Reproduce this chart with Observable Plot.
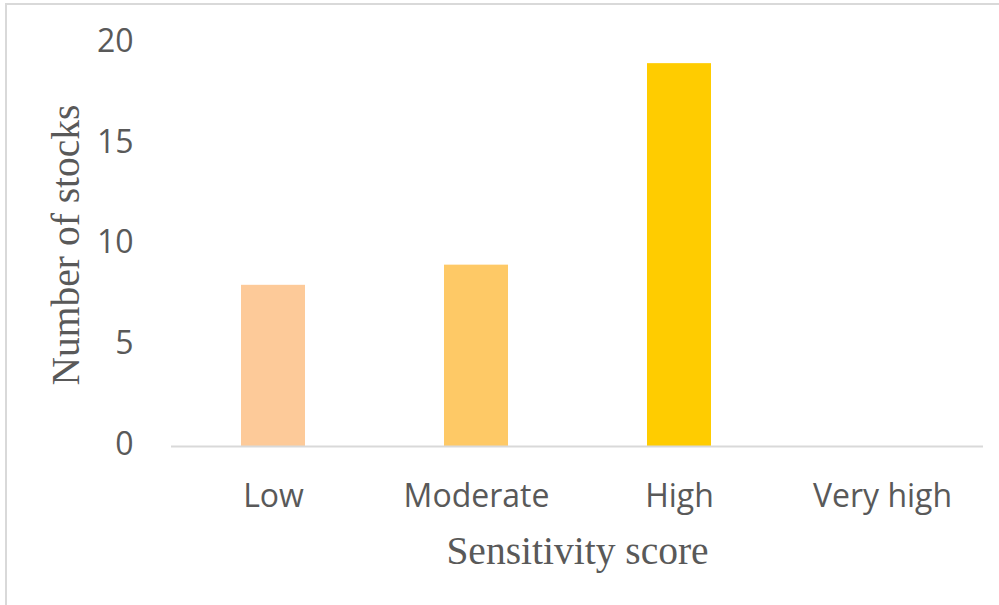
<!DOCTYPE html>
<html>
<head>
<meta charset="utf-8">
<script src="https://cdn.jsdelivr.net/npm/d3@7"></script>
<script src="https://cdn.jsdelivr.net/npm/@observablehq/plot@0.6"></script>
<style>
  html, body { margin: 0; padding: 0; background: #fff; overflow: hidden; }
  #wrap { position: relative; width: 999px; height: 605px; }
  #border { position: absolute; left: 5px; top: 3px; width: 1100px; height: 700px; border: 2px solid #d9d9d9; pointer-events: none; }
</style>
</head>
<body>
<div id="wrap"><div id="border"></div></div>
<script>
const categories = ["Low", "Moderate", "High", "Very high"];
const counts = [8, 9, 19, 0];
const colors = ["#fdca99", "#fec966", "#ffcc00", "#ffcc00"];
const yTicks = [0, 5, 10, 15, 20];

const data = categories.map((c, i) => ({category: c, count: counts[i], color: colors[i]}));

const chart = Plot.plot({
  width: 999,
  height: 605,
  marginLeft: 171,
  marginRight: 16,
  marginTop: 43,
  marginBottom: 159,
  style: {fontFamily: "'Open Sans', Lato, sans-serif", color: "#595959", background: "transparent"},
  x: {domain: categories, paddingInner: 0.685, paddingOuter: 0.3425, label: null},
  y: {domain: [0, 20], label: null},
  marks: [
    Plot.barY(data, {x: "category", y: "count", fill: "color"}),
    Plot.ruleY([0], {stroke: "#d9d9d9", strokeWidth: 2}),
    Plot.axisY({ticks: yTicks, tickSize: 0, tickPadding: 38, fontSize: 32, dy: -2, label: null}),
    Plot.axisX({tickSize: 0, tickPadding: 38, fontSize: 32, label: null}),
    Plot.text(["Number of stocks"], {frameAnchor: "left", textAnchor: "middle", lineAnchor: "middle", dx: -105, rotate: -90, fontSize: 39.5, fontFamily: "'Liberation Serif', serif", fill: "#595959"}),
    Plot.text(["Sensitivity score"], {frameAnchor: "bottom", textAnchor: "middle", lineAnchor: "middle", dy: 105, fontSize: 39.5, fontFamily: "'Liberation Serif', serif", fill: "#595959"})
  ]
});
chart.style.position = "absolute";
chart.style.left = "0";
chart.style.top = "0";
document.getElementById("wrap").appendChild(chart);
</script>
</body>
</html>
